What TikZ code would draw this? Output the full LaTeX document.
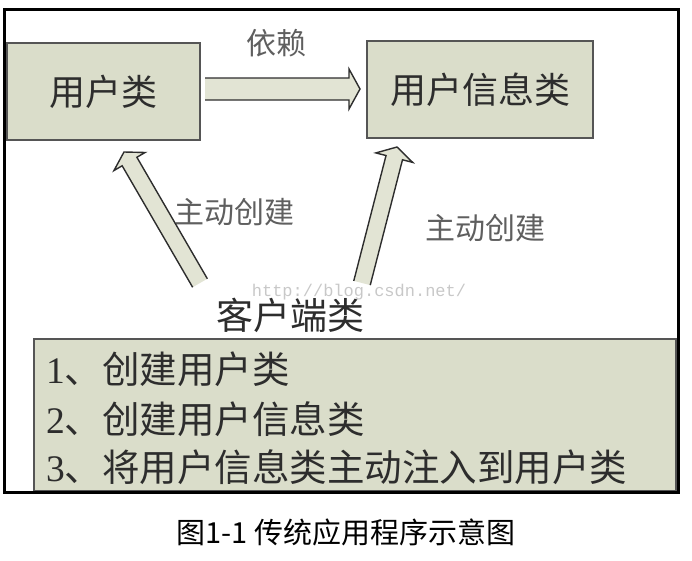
\documentclass[tikz,border=0pt]{standalone}
\usepackage{fontspec}
\setmainfont{Liberation Serif}
\setmonofont{Liberation Mono}
\newfontfamily\cjk{Noto Sans CJK SC}
\usepackage{tikz}
\usetikzlibrary{calc}

\definecolor{boxfill}{RGB}{218,221,202}
\definecolor{boxline}{RGB}{85,85,85}
\definecolor{arrowfill}{RGB}{226,228,212}
\definecolor{arrowline}{RGB}{45,45,45}
\definecolor{textgray}{RGB}{45,45,45}
\definecolor{labelgray}{RGB}{95,95,95}
\definecolor{markgray}{RGB}{200,200,200}

\tikzset{
  classbox/.style={draw=boxline, line width=1.6pt, fill=boxfill, inner sep=0pt,
    minimum height=97pt, text=textgray, font=\cjk\fontsize{36}{40}\selectfont},
  labeltext/.style={inner sep=0pt, text=labelgray, font=\cjk\fontsize{30}{34}\selectfont},
  steptext/.style={anchor=west, inner sep=0pt, text=textgray, font=\cjk\fontsize{37.5}{42}\selectfont},
  fatline/.style={draw=arrowline, line width=1.4pt, line join=miter},
}

% hollow block arrow: from, to, half shaft width, half head width
\newcommand{\fatarrow}[4]{%
  \coordinate (fa-h) at ($(#2)!11pt!(#1)$);
  \fill[arrowfill] ($(#1)!#3!90:(#2)$) -- ($(fa-h)!#3!90:(#2)$) -- ($(fa-h)!#4!90:(#2)$) -- (#2)
    -- ($(fa-h)!#4!-90:(#2)$) -- ($(fa-h)!#3!-90:(#2)$) -- ($(#1)!#3!-90:(#2)$) -- cycle;
  \draw[fatline] ($(#1)!#3!90:(#2)$) -- ($(fa-h)!#3!90:(#2)$) -- ($(fa-h)!#4!90:(#2)$) -- (#2)
    -- ($(fa-h)!#4!-90:(#2)$) -- ($(fa-h)!#3!-90:(#2)$) -- ($(#1)!#3!-90:(#2)$);
}

\begin{document}
\begin{tikzpicture}[x=1pt, y=-1pt]
        \useasboundingbox (0,0) rectangle (692,560);
        \node[classbox, minimum width=193pt] (user) at (103.5,91.5) {用户类};
        \node[classbox, minimum width=226pt] (userinfo) at (480,89.5) {用户信息类};
        \node[labeltext] (dep) at (276,43) {依赖};
        \node[labeltext] (newuser) at (234,212) {主动创建};
        \node[labeltext] (newinfo) at (485,228) {主动创建};
        \node[inner sep=0pt, text=markgray, font=\ttfamily\fontsize{17}{20}\selectfont] (mark) at (359,292) {http://blog.csdn.net/};
        \node[inner sep=0pt, text=textgray, font=\cjk\fontsize{37}{40}\selectfont] (client) at (290,315) {客户端类};
        \node[classbox, minimum width=642pt, minimum height=152pt] (clientbox) at (355,415) {};
        \node[steptext] (step1) at (46,369) {\textrm{1}、创建用户类};
        \node[steptext] (step2) at (46,419) {\textrm{2}、创建用户信息类};
        \node[steptext] (step3) at (46,467) {\textrm{3}、将用户信息类主动注入到用户类};
        % arrows
        \coordinate (dep-s) at (205,89);
        \coordinate (dep-e) at (360,89);
        \fatarrow{dep-s}{dep-e}{11pt}{20pt}
        \coordinate (newuser-s) at (200,283);
        \coordinate (newuser-e) at (124,152);
        \fatarrow{newuser-s}{newuser-e}{8.5pt}{18pt}
        \coordinate (newinfo-s) at (362,283);
        \coordinate (newinfo-e) at (397,147);
        \fatarrow{newinfo-s}{newinfo-e}{8.5pt}{19pt}
        \draw[line width=2.5pt] (4.5,9.5) rectangle (678.5,492.5);
        \node[inner sep=0pt, font=\cjk\fontsize{29}{32}\selectfont] (caption) at (346,532) {图1-1 传统应用程序示意图};
        \end{tikzpicture}
\end{document}
